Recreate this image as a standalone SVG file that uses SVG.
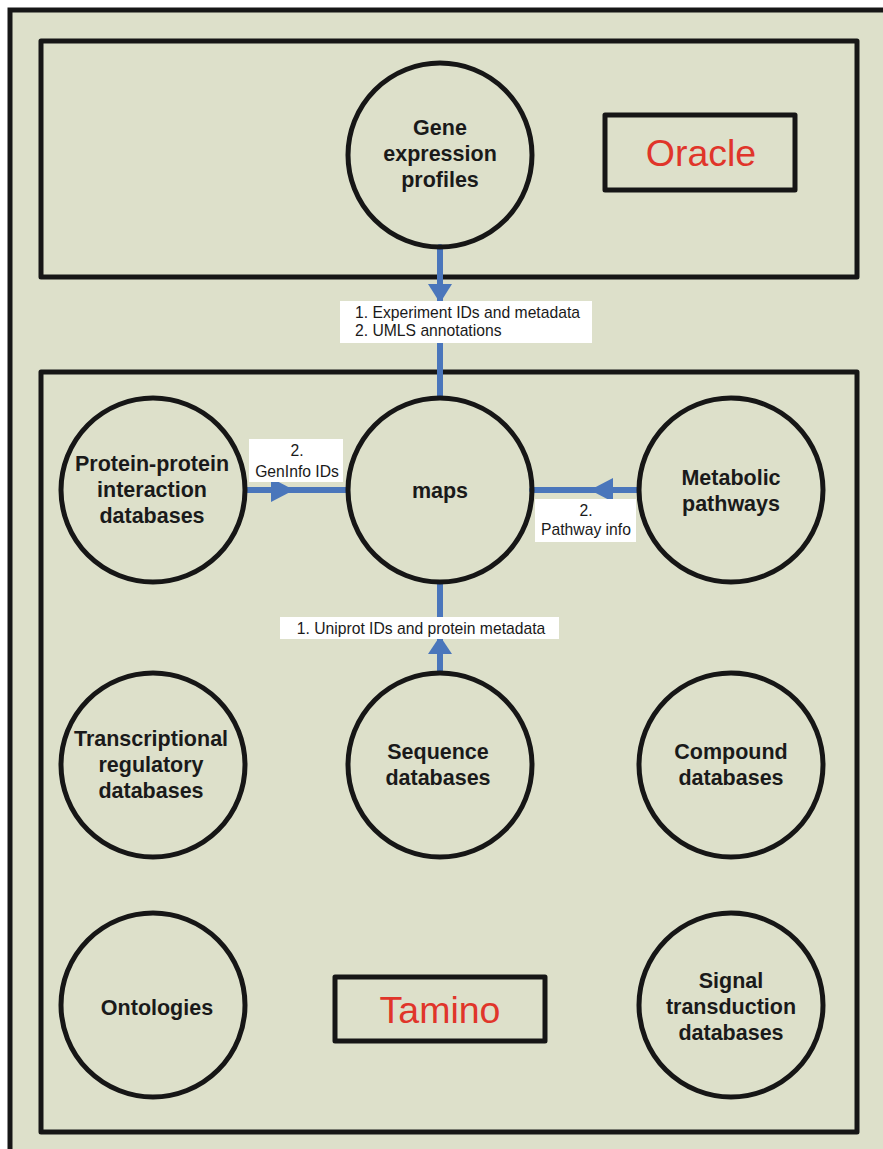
<svg xmlns="http://www.w3.org/2000/svg" width="883" height="1149" viewBox="0 0 883 1149">
<defs>
<style>
.frame{fill:none;stroke:#161616;stroke-width:5;stroke-linejoin:round}
.node{fill:none;stroke:#161616;stroke-width:5}
.nt{font-family:"Liberation Sans",Arial,sans-serif;font-weight:bold;font-size:21.5px;fill:#1a1a1a;text-anchor:middle}
.lbl{font-family:"Liberation Sans",Arial,sans-serif;font-size:15.7px;fill:#1a1a1a;text-anchor:middle}
.lbox{fill:#ffffff}
.edge{stroke:#4a76bb;stroke-width:6;stroke-linecap:round;fill:none}
.head{fill:#4a76bb}
.big{font-family:"Liberation Sans",Arial,sans-serif;font-size:37.5px;fill:#e0352a;text-anchor:middle}
</style>
</defs>
<rect x="0" y="0" width="883" height="1149" fill="#ffffff"/>
<rect x="10" y="10" width="900" height="1200" fill="#dde0ca" stroke="#161616" stroke-width="5"/>
<rect id="oracle-box" class="frame" x="41" y="41" width="816" height="236"/>
<rect id="tamino-box" class="frame" x="41" y="372" width="816" height="760"/>
<g id="oracle-label"><rect class="frame" x="605" y="115" width="190" height="75"/><text class="big" x="701" y="166">Oracle</text></g>
<g id="tamino-label"><rect class="frame" x="335" y="977" width="210" height="64"/><text class="big" x="440" y="1023">Tamino</text></g>
<g id="connectors">
<line class="edge" x1="440" y1="247" x2="440" y2="397"/>
<polygon class="head" points="428,284 452,284 440,303"/>
<line class="edge" x1="246" y1="490" x2="347" y2="490"/>
<polygon class="head" points="271,478 271,502 294,490"/>
<line class="edge" x1="532" y1="490" x2="638" y2="490"/>
<polygon class="head" points="613,478 613,502 590,490"/>
<line class="edge" x1="440" y1="583" x2="440" y2="672"/>
<polygon class="head" points="428,654 452,654 440,636"/>
<g id="label-oracle"><rect class="lbox" x="340" y="301" width="252" height="42"/><text class="lbl" x="355" y="318" style="text-anchor:start">1. Experiment IDs and metadata</text><text class="lbl" x="355" y="336" style="text-anchor:start">2. UMLS annotations</text></g>
<g id="label-geninfo"><rect class="lbox" x="249" y="439" width="94" height="43"/><text class="lbl" x="297" y="456">2.</text><text class="lbl" x="297" y="477">GenInfo IDs</text></g>
<g id="label-pathway"><rect class="lbox" x="535" y="499" width="101" height="43"/><text class="lbl" x="586" y="516">2.</text><text class="lbl" x="586" y="535">Pathway info</text></g>
<g id="label-uniprot"><rect class="lbox" x="280" y="617" width="279" height="22"/><text class="lbl" x="421" y="634">1. Uniprot IDs and protein metadata</text></g>
</g>
<g id="gene"><circle class="node" cx="440" cy="155" r="92"/><text class="nt" x="440" y="135">Gene</text><text class="nt" x="440" y="161">expression</text><text class="nt" x="440" y="187">profiles</text></g>
<g id="maps"><circle class="node" cx="440" cy="490" r="92"/><text class="nt" x="440" y="498">maps</text></g>
<g id="ppi"><circle class="node" cx="153" cy="490" r="92"/><text class="nt" x="152" y="471">Protein-protein</text><text class="nt" x="152" y="497">interaction</text><text class="nt" x="152" y="523">databases</text></g>
<g id="metabolic"><circle class="node" cx="731" cy="490" r="92"/><text class="nt" x="731" y="485">Metabolic</text><text class="nt" x="731" y="511">pathways</text></g>
<g id="transcriptional"><circle class="node" cx="153" cy="765" r="92"/><text class="nt" x="151" y="746">Transcriptional</text><text class="nt" x="151" y="772">regulatory</text><text class="nt" x="151" y="798">databases</text></g>
<g id="sequence"><circle class="node" cx="440" cy="765" r="92"/><text class="nt" x="438" y="759">Sequence</text><text class="nt" x="438" y="785">databases</text></g>
<g id="compound"><circle class="node" cx="731" cy="765" r="92"/><text class="nt" x="731" y="759">Compound</text><text class="nt" x="731" y="785">databases</text></g>
<g id="ontologies"><circle class="node" cx="153" cy="1005" r="92"/><text class="nt" x="157" y="1015">Ontologies</text></g>
<g id="signal"><circle class="node" cx="731" cy="1005" r="92"/><text class="nt" x="731" y="988">Signal</text><text class="nt" x="731" y="1014">transduction</text><text class="nt" x="731" y="1040">databases</text></g>
</svg>
